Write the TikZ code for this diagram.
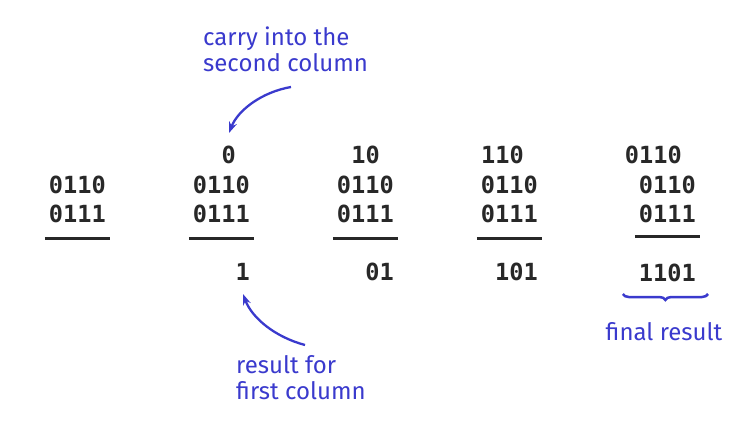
\documentclass[tikz,border=0pt]{standalone}
\usepackage{fontspec}
\setmonofont{DejaVu Sans Mono}
\newfontfamily\notefont{Fira Sans}
\usetikzlibrary{arrows.meta,decorations.pathreplacing,calc}
\definecolor{noteblue}{RGB}{58,58,205}
\definecolor{digitgray}{RGB}{40,40,40}
\tikzset{
  num/.style={inner sep=0pt, anchor=base east, text=digitgray,
    font=\ttfamily\bfseries\fontsize{23.6}{28}\selectfont},
  note/.style={inner sep=0pt, text=noteblue, align=left,
    font=\notefont\fontsize{24}{26}\selectfont},
  sumrule/.style={line width=3pt, digitgray},
  bluearrow/.style={noteblue, line width=2.3pt, -{Stealth[length=11pt,width=8pt]}},
}
\begin{document}
\begin{tikzpicture}[x=1pt,y=-1pt]
\useasboundingbox (0,0) rectangle (746,433);
% column 1
\node[num] (a1) at (106,193) {0110};
\node[num] (b1) at (106,222) {0111};
% column 2
\node[num] (c2) at (236,163) {0};
\node[num] (a2) at (250,193) {0110};
\node[num] (b2) at (250,222) {0111};
\node[num] (r2) at (250,280) {1};
% column 3
\node[num] (c3) at (380,163) {10};
\node[num] (a3) at (394,193) {0110};
\node[num] (b3) at (394,222) {0111};
\node[num] (r3) at (394,280) {01};
% column 4
\node[num] (c4) at (524,163) {110};
\node[num] (a4) at (538,193) {0110};
\node[num] (b4) at (538,222) {0111};
\node[num] (r4) at (538,280) {101};
% column 5
\node[num] (c5) at (682,163) {0110};
\node[num] (a5) at (696,193) {0110};
\node[num] (b5) at (696,222) {0111};
\node[num] (r5) at (696,281) {1101};
% rules
\draw[sumrule] ($(b1.base west)+(-4,16)$) -- ($(b1.base east)+(4,16)$);
\draw[sumrule] ($(b2.base west)+(-4,16)$) -- ($(b2.base east)+(4,16)$);
\draw[sumrule] ($(b3.base west)+(-4,16)$) -- ($(b3.base east)+(4,16)$);
\draw[sumrule] ($(b4.base west)+(-4,16)$) -- ($(b4.base east)+(4,16)$);
\draw[sumrule] ($(b5.base west)+(-4,14)$) -- ($(b5.base east)+(4,14)$);
% notes
\node[note, anchor=north west] (carry) at (203,27) {carry into the\\second column};
\node[note, anchor=north west] (first) at (236,355) {result for\\first column};
\node[note, anchor=center] (final) at (664,332) {final result};
% arrows
\coordinate (carrytail) at (291,87);
\coordinate (carrytip) at (229,133);
\draw[bluearrow] (carrytail) .. controls (262,92) and (238,110) .. (carrytip);
\coordinate (firsttail) at (305,345);
\coordinate (firsttip) at (243,294);
\draw[bluearrow] (firsttail) .. controls (275,337) and (252,318) .. (firsttip);
% brace
\draw[noteblue, line width=2.5pt, decorate, decoration={brace, mirror, amplitude=6pt}]
  ($(r5.base west)+(-16,13)$) -- ($(r5.base east)+(12,13)$);
\end{tikzpicture}
\end{document}
